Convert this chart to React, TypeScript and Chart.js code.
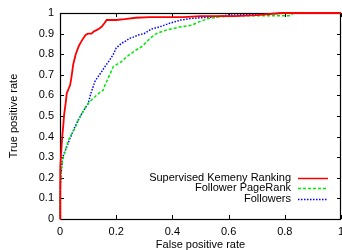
import React, { useEffect, useRef } from "react";
import { Chart, registerables } from "chart.js";

Chart.register(...registerables);

const seriesLabels = ["Supervised Kemeny Ranking", "Follower PageRank", "Followers"];

const kemenyFpr = [0, 0, 0.002, 0.004, 0.008, 0.012, 0.015, 0.02, 0.024, 0.03, 0.036, 0.041, 0.047, 0.056, 0.067, 0.075, 0.083, 0.091, 0.1, 0.112, 0.12, 0.13, 0.14, 0.148, 0.158, 0.166, 0.2, 0.23, 0.27, 0.32, 0.4, 0.44, 0.5, 0.62, 0.7, 0.79, 0.9, 1];
const kemenyTpr = [0, 0.15, 0.25, 0.32, 0.4, 0.46, 0.51, 0.56, 0.61, 0.63, 0.65, 0.69, 0.75, 0.8, 0.84, 0.86, 0.877, 0.893, 0.9, 0.9, 0.91, 0.917, 0.925, 0.933, 0.95, 0.966, 0.966, 0.97, 0.977, 0.98, 0.98, 0.98, 0.985, 0.985, 0.99, 1, 1, 1];

const pagerankFpr = [0, 0, 0.002, 0.005, 0.01, 0.018, 0.03, 0.04, 0.053, 0.065, 0.077, 0.086, 0.095, 0.112, 0.13, 0.142, 0.154, 0.16, 0.166, 0.19, 0.219, 0.235, 0.254, 0.27, 0.29, 0.305, 0.32, 0.343, 0.378, 0.43, 0.467, 0.496, 0.53, 0.573, 0.65, 0.82, 0.83, 1];
const pagerankTpr = [0, 0.1, 0.18, 0.24, 0.29, 0.327, 0.383, 0.41, 0.44, 0.48, 0.51, 0.53, 0.553, 0.578, 0.6, 0.615, 0.626, 0.65, 0.667, 0.74, 0.764, 0.785, 0.804, 0.82, 0.836, 0.855, 0.877, 0.9, 0.917, 0.933, 0.94, 0.958, 0.974, 0.982, 0.987, 0.987, 1, 1];

const followersFpr = [0, 0, 0.002, 0.005, 0.008, 0.012, 0.018, 0.024, 0.035, 0.045, 0.053, 0.065, 0.077, 0.09, 0.1, 0.11, 0.124, 0.135, 0.148, 0.16, 0.177, 0.19, 0.2, 0.219, 0.235, 0.248, 0.265, 0.278, 0.3, 0.325, 0.355, 0.39, 0.43, 0.47, 0.556, 0.6, 0.7, 0.8, 0.9, 1];
const followersTpr = [0, 0.1, 0.18, 0.24, 0.28, 0.31, 0.33, 0.35, 0.39, 0.42, 0.448, 0.48, 0.51, 0.54, 0.56, 0.61, 0.667, 0.69, 0.715, 0.74, 0.772, 0.8, 0.83, 0.853, 0.865, 0.877, 0.885, 0.893, 0.9, 0.922, 0.933, 0.95, 0.966, 0.974, 0.982, 0.99, 0.993, 1, 1, 1];

const xTicks = [0, 0.2, 0.4, 0.6, 0.8, 1];
const yTicks = [0, 0.1, 0.2, 0.3, 0.4, 0.5, 0.6, 0.7, 0.8, 0.9, 1];

const FONT = "'Liberation Sans', Arial, Helvetica, sans-serif";

const toPoints = (xs: number[], ys: number[]) => xs.map((x, i) => ({ x, y: ys[i] }));

const fmt = (v: number) => String(Math.round(v * 10) / 10);

const framePlugin = {
  id: "frame",
  beforeDatasetsDraw(chart: any) {
    const { ctx, chartArea } = chart;
    const { left, right, top, bottom } = chartArea;
    const xs = chart.scales.x;
    const ys = chart.scales.y;
    const tl = 4;
    ctx.save();
    ctx.strokeStyle = "#000";
    ctx.lineWidth = 1;
    ctx.beginPath();
    xTicks.forEach((v) => {
      const px = Math.round(xs.getPixelForValue(v)) + 0.5;
      ctx.moveTo(px, bottom);
      ctx.lineTo(px, bottom - tl);
      ctx.moveTo(px, top);
      ctx.lineTo(px, top + tl);
    });
    yTicks.forEach((v) => {
      const py = Math.round(ys.getPixelForValue(v)) + 0.5;
      ctx.moveTo(left, py);
      ctx.lineTo(left + tl, py);
      ctx.moveTo(right, py);
      ctx.lineTo(right - tl, py);
    });
    ctx.stroke();
    ctx.lineWidth = 1.2;
    ctx.strokeRect(Math.round(left) + 0.5, Math.round(top) + 0.5, Math.round(right - left) - 1, Math.round(bottom - top));
    ctx.restore();
  },
  afterDraw(chart: any) {
    const { ctx, chartArea } = chart;
    const textRight = chartArea.right - 50;
    const lineStart = chartArea.right - 43;
    const lineEnd = chartArea.right - 13;
    const firstY = chartArea.bottom - 41.5;
    const step = 10.5;
    ctx.save();
    ctx.font = `11px ${FONT}`;
    ctx.textAlign = "right";
    ctx.textBaseline = "middle";
    chart.data.datasets.forEach((ds: any, i: number) => {
      const y = firstY + i * step;
      ctx.fillStyle = "#000";
      ctx.fillText(ds.label, textRight, y);
      ctx.strokeStyle = ds.borderColor;
      ctx.lineWidth = Math.min(ds.borderWidth, 1.5);
      ctx.setLineDash(ds.borderDash || []);
      ctx.beginPath();
      ctx.moveTo(lineStart, Math.round(y) + 0.5);
      ctx.lineTo(lineEnd, Math.round(y) + 0.5);
      ctx.stroke();
    });
    ctx.restore();
  },
};

export default function App() {
  const canvasRef = useRef<HTMLCanvasElement | null>(null);

  useEffect(() => {
    const canvas = canvasRef.current;
    if (!canvas) return;
    const chart = new Chart(canvas, {
      type: "line",
      data: {
        datasets: [
          {
            label: seriesLabels[0],
            data: toPoints(kemenyFpr, kemenyTpr),
            borderColor: "#ff0000",
            borderWidth: 1.8,
            pointRadius: 0,
            tension: 0,
            clip: false,
          },
          {
            label: seriesLabels[1],
            data: toPoints(pagerankFpr, pagerankTpr),
            borderColor: "#00e600",
            borderWidth: 1.5,
            borderDash: [3, 2],
            pointRadius: 0,
            tension: 0,
            clip: false,
          },
          {
            label: seriesLabels[2],
            data: toPoints(followersFpr, followersTpr),
            borderColor: "#0000ff",
            borderWidth: 1.5,
            borderDash: [1.5, 1.5],
            pointRadius: 0,
            tension: 0,
            clip: false,
          },
        ],
      },
      options: {
        animation: false,
        responsive: false,
        devicePixelRatio: 1,
        layout: { padding: { top: 13, right: 1, left: 0, bottom: 0 } },
        plugins: { legend: { display: false }, tooltip: { enabled: false } },
        scales: {
          x: {
            type: "linear",
            min: 0,
            max: 1,
            afterBuildTicks: (scale: any) => {
              scale.ticks = xTicks.map((value) => ({ value }));
            },
            afterFit: (scale: any) => {
              scale.height = 31;
              scale.paddingLeft = 0;
              scale.paddingRight = 0;
            },
            ticks: {
              autoSkip: false,
              maxRotation: 0,
              padding: 6,
              color: "#000",
              font: { family: FONT, size: 11 },
              callback: (v: any) => fmt(Number(v)),
            },
            grid: { display: false, drawTicks: false, tickLength: 0 },
            border: { display: false },
            title: {
              display: true,
              text: "False positive rate",
              color: "#000",
              font: { family: FONT, size: 11, lineHeight: 1 },
              padding: { top: -2, bottom: 0 },
            },
          },
          y: {
            type: "linear",
            min: 0,
            max: 1,
            afterBuildTicks: (scale: any) => {
              scale.ticks = yTicks.map((value) => ({ value }));
            },
            afterFit: (scale: any) => {
              scale.width = 60;
              scale.paddingTop = 0;
              scale.paddingBottom = 0;
            },
            ticks: {
              autoSkip: false,
              padding: 6,
              color: "#000",
              font: { family: FONT, size: 11 },
              callback: (v: any) => fmt(Number(v)),
            },
            grid: { display: false, drawTicks: false, tickLength: 0 },
            border: { display: false },
            title: {
              display: true,
              text: "True positive rate",
              color: "#000",
              font: { family: FONT, size: 11, lineHeight: 1 },
              padding: { top: 8.5, bottom: 0 },
            },
          },
        },
      },
      plugins: [framePlugin],
    } as any);
    return () => chart.destroy();
  }, []);

  return (
    <div style={{ position: "fixed", left: 0, top: 0, width: 342, height: 250, background: "#fff" }}>
      <canvas ref={canvasRef} width={342} height={250} style={{ display: "block" }} />
    </div>
  );
}
